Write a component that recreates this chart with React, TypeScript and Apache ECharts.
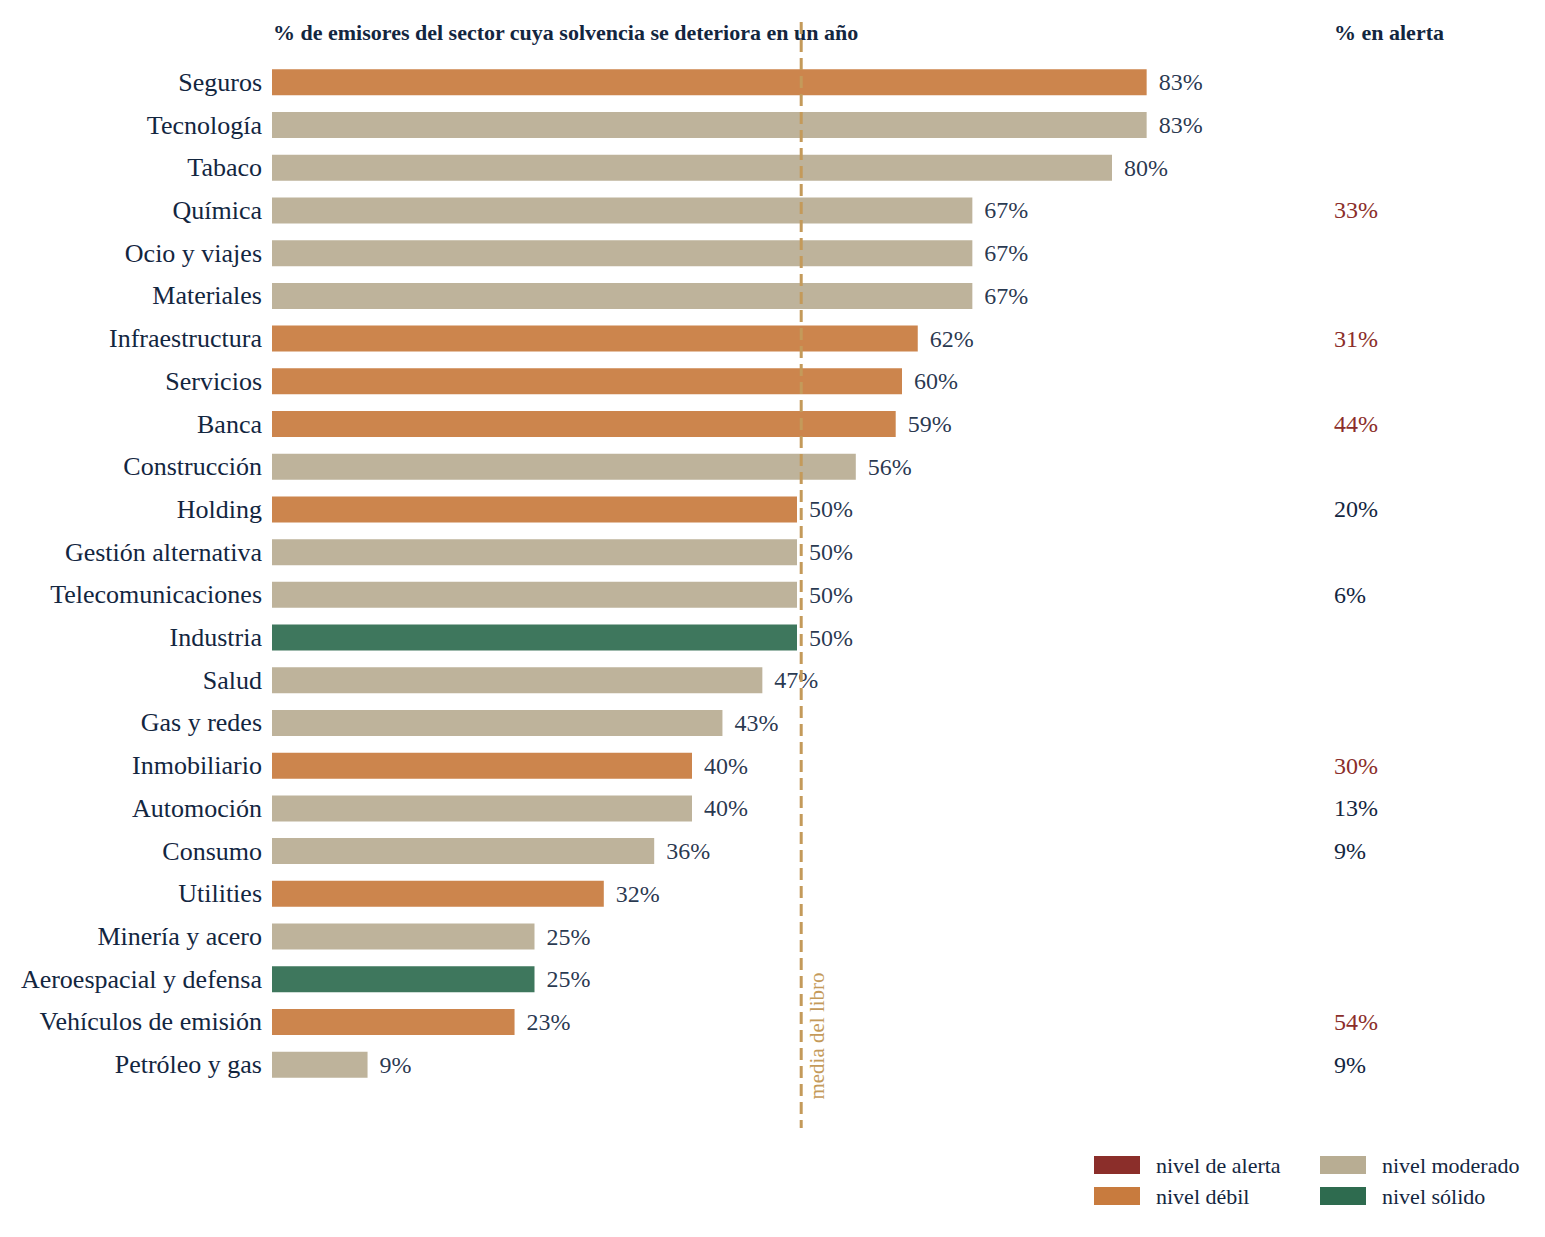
import React, { useEffect, useRef } from "react";
import * as echarts from "echarts";

const categories = [
  "Seguros", "Tecnología", "Tabaco", "Química", "Ocio y viajes", "Materiales",
  "Infraestructura", "Servicios", "Banca", "Construcción", "Holding",
  "Gestión alternativa", "Telecomunicaciones", "Industria", "Salud",
  "Gas y redes", "Inmobiliario", "Automoción", "Consumo", "Utilities",
  "Minería y acero", "Aeroespacial y defensa", "Vehículos de emisión", "Petróleo y gas",
];
// % de emisores cuya solvencia se deteriora en un año
const deteriorationValues = [
  83.3, 83.3, 80, 66.7, 66.7, 66.7, 61.5, 60, 59.4, 55.6, 50, 50, 50, 50,
  46.7, 42.9, 40, 40, 36.4, 31.6, 25, 25, 23.1, 9.1,
];
// nivel: "debil" | "moderado" | "solido" | "alerta"
const levels = [
  "debil", "moderado", "moderado", "moderado", "moderado", "moderado",
  "debil", "debil", "debil", "moderado", "debil", "moderado", "moderado",
  "solido", "moderado", "moderado", "debil", "moderado", "moderado", "debil",
  "moderado", "solido", "debil", "moderado",
];
// % en alerta (null = sin dato)
const alertValues: (number | null)[] = [
  null, null, null, 33, null, null, 31, null, 44, null, 20, null, 6, null,
  null, null, 30, 13, 9, null, null, null, 54, 9,
];
const alertHighlight = [
  false, false, false, true, false, false, true, false, true, false, false, false, false, false,
  false, false, true, false, false, false, false, false, true, false,
];
const bookMean = 50.4;

const levelNames: Record<string, string> = {
  alerta: "nivel de alerta",
  debil: "nivel débil",
  moderado: "nivel moderado",
  solido: "nivel sólido",
};
const levelColors: Record<string, string> = {
  alerta: "#8B2E2A",
  debil: "#C87B3E",
  moderado: "#B8AD93",
  solido: "#2E6B4F",
};
const levelOrder = ["alerta", "debil", "moderado", "solido"];

const FONT = "'Liberation Serif', 'DejaVu Serif', serif";
const NAVY = "#13263F";
const GOLD = "#C49A5A";

export default function App() {
  const ref = useRef<HTMLDivElement>(null);
  useEffect(() => {
    document.body.style.margin = "0";
    if (!ref.current) return;
    const chart = echarts.init(ref.current, null, { renderer: "svg" });

    const series = levelOrder.map((lv) => ({
      name: levelNames[lv],
      type: "bar",
      stack: "total",
      barWidth: 26,
      itemStyle: { color: levelColors[lv], opacity: 0.92 },
      label: {
        show: true,
        position: "right",
        distance: 12,
        fontFamily: FONT,
        fontSize: 24,
        color: NAVY,
        formatter: (p: any) => `${Math.round(p.value)}%`,
      },
      data: deteriorationValues.map((v, i) => (levels[i] === lv ? v : "-")),
    }));

    const legendBase = {
      orient: "vertical",
      top: 1154,
      icon: "rect",
      itemWidth: 46,
      itemHeight: 18,
      itemGap: 9,
      padding: 0,
      itemStyle: { opacity: 1 },
      textStyle: { fontFamily: FONT, fontSize: 22, color: NAVY, padding: [0, 0, 0, 11] },
      selectedMode: false,
    };

    const option: any = {
      animation: false,
      textStyle: { fontFamily: FONT },
      grid: { left: 272, top: 61, width: 1050, height: 1025, containLabel: false },
      xAxis: {
        type: "value",
        min: 0,
        max: 100,
        show: false,
      },
      yAxis: [
        {
          type: "category",
          inverse: true,
          data: categories,
          axisLine: { show: false },
          axisTick: { show: false },
          axisLabel: { fontFamily: FONT, fontSize: 26, color: NAVY, margin: 10 },
        },
        {
          type: "category",
          inverse: true,
          position: "right",
          data: categories.map((_, i) => String(i)),
          axisLine: { show: false },
          axisTick: { show: false },
          axisLabel: {
            fontFamily: FONT,
            fontSize: 24,
            margin: 12,
            align: "left",
            formatter: (val: string) => {
              const i = Number(val);
              return alertValues[i] == null ? "" : `${alertValues[i]}%`;
            },
            color: (val: string) => (alertHighlight[Number(val)] ? "#8B2E2A" : NAVY),
          },
        },
      ],
      legend: [
        { ...legendBase, data: [levelNames.alerta, levelNames.debil], left: 1094 },
        { ...legendBase, data: [levelNames.moderado, levelNames.solido], left: 1320 },
      ],
      series,
    };
    chart.setOption(option);

    const mx = chart.convertToPixel({ xAxisIndex: 0 }, bookMean) as number;
    chart.setOption({
      graphic: [
        {
          type: "text",
          left: 273,
          top: 21,
          style: {
            text: "% de emisores del sector cuya solvencia se deteriora en un año",
            font: `bold 22px ${FONT}`,
            fill: NAVY,
          },
        },
        {
          type: "text",
          left: 1334,
          top: 21,
          style: { text: "% en alerta", font: `bold 22px ${FONT}`, fill: NAVY },
        },
        {
          type: "line",
          z: 10,
          shape: { x1: mx, y1: 22, x2: mx, y2: 1128 },
          style: { stroke: GOLD, lineWidth: 3, lineDash: [12, 6] },
        },
        {
          type: "text",
          x: mx + 16,
          y: 1036,
          rotation: Math.PI / 2,
          z: 10,
          style: {
            text: "media del libro",
            font: `21px ${FONT}`,
            fill: GOLD,
            align: "center",
            verticalAlign: "middle",
          },
        },
      ],
    });

    return () => chart.dispose();
  }, []);
  return <div ref={ref} style={{ width: 1545, height: 1237 }} />;
}
